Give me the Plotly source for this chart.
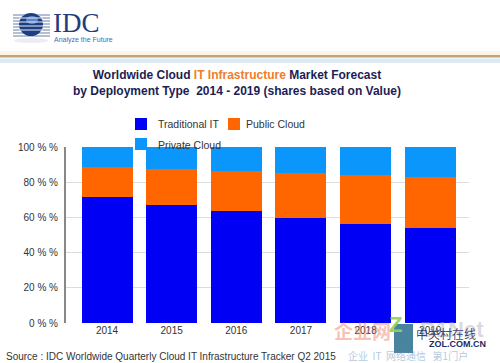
import plotly.graph_objects as go

years = ["2014", "2015", "2016", "2017", "2018", "2019"]
series_names = ["Traditional IT", "Public Cloud", "Private Cloud"]
traditional_it = [71.8, 67.0, 63.4, 59.8, 56.2, 53.8]
public_cloud = [17.1, 20.3, 22.8, 25.2, 27.7, 29.2]
private_cloud = [11.1, 12.7, 13.8, 15.0, 16.1, 17.0]
y_ticks = [0, 20, 40, 60, 80, 100]
y_tick_labels = [f"{v} % %" for v in y_ticks]
colors = ["#0000f5", "#ff6600", "#0a96fa"]

W, H = 500, 363
L, R, T, B = 66, 31, 147, 40
PW, PH = W - L - R, H - T - B


def px(x):
    return (x - L) / PW


def py(y):
    return (H - B - y) / PH


fig = go.Figure()
for name, vals, c in zip(series_names, [traditional_it, public_cloud, private_cloud], colors):
    fig.add_trace(go.Bar(x=years, y=vals, name=name, marker=dict(color=c, line=dict(width=0)),
                         width=0.79, showlegend=False))

shapes = []
annotations = []
font = "Liberation Sans, Arial, sans-serif"

# header decoration
shapes.append(dict(type="rect", xref="paper", yref="paper", x0=px(0), x1=px(W), y0=py(56), y1=py(51),
                   fillcolor="#fdf4e4", line=dict(width=0), layer="below"))
shapes.append(dict(type="rect", xref="paper", yref="paper", x0=px(0), x1=px(W), y0=py(57.5), y1=py(55),
                   fillcolor="#c4a27c", line=dict(width=0), layer="below"))
shapes.append(dict(type="rect", xref="paper", yref="paper", x0=px(0), x1=px(W), y0=py(63), y1=py(58.5),
                   fillcolor="#dde9f4", line=dict(width=0), layer="below"))

# IDC logo: stripes + globe
for yy in [15, 18, 21, 24, 27, 30, 33, 36]:
    shapes.append(dict(type="line", xref="paper", yref="paper", x0=px(13), x1=px(50), y0=py(yy), y1=py(yy),
                       line=dict(color="#6a7fa8", width=1)))
shapes.append(dict(type="circle", xref="paper", yref="paper", x0=px(19), x1=px(43), y0=py(36), y1=py(13),
                   fillcolor="#1d3f82", line=dict(width=0)))
shapes.append(dict(type="circle", xref="paper", yref="paper", x0=px(26), x1=px(38), y0=py(24), y1=py(16),
                   fillcolor="#5f86c8", line=dict(width=0)))
for yy in [18, 22, 26, 30]:
    shapes.append(dict(type="line", xref="paper", yref="paper", x0=px(19), x1=px(43), y0=py(yy), y1=py(yy),
                       line=dict(color="#e8eef8", width=1)))
shapes.append(dict(type="circle", xref="paper", yref="paper", x0=px(14), x1=px(48), y0=py(43), y1=py(38),
                   fillcolor="#e6e2ee", line=dict(width=0), opacity=0.7))
annotations.append(dict(x=px(51), y=py(23), xref="paper", yref="paper", text="IDC", showarrow=False,
                        xanchor="left", yanchor="middle",
                        font=dict(family="Liberation Serif, DejaVu Serif, serif", size=27, color="#223c7c")))
annotations.append(dict(x=px(52), y=py(40.5), xref="paper", yref="paper", text="Analyze the Future",
                        showarrow=False, xanchor="left", yanchor="middle",
                        font=dict(family=font, size=7, color="#3a6cc0")))

# title
annotations.append(dict(
    x=px(237), y=py(82.5), xref="paper", yref="paper", showarrow=False, xanchor="center", yanchor="middle",
    text="<b>Worldwide Cloud <span style='color:#ee7d2c'>IT Infrastructure</span> Market Forecast<br>"
         "by Deployment Type  2014 - 2019 (shares based on Value)</b>",
    font=dict(family=font, size=12, color="#1d1d55"), align="center"))

# legend (manual, from series names/colors)
leg = [(135, 118, 156), (228, 118, 244), (135, 138, 156)]
for (sx, sy, tx), name, c in zip(leg, series_names, colors):
    shapes.append(dict(type="rect", xref="paper", yref="paper", x0=px(sx), x1=px(sx + 12),
                       y0=py(sy + 12), y1=py(sy), fillcolor=c, line=dict(width=0)))
    annotations.append(dict(x=px(tx), y=py(sy + 6.5), xref="paper", yref="paper", text=name, showarrow=False,
                            xanchor="left", yanchor="middle", font=dict(family=font, size=10.5, color="#333333")))

# source
annotations.append(dict(x=px(4), y=py(356), xref="paper", yref="paper", showarrow=False, xanchor="left",
                        yanchor="middle",
                        text="Source : IDC Worldwide Quarterly Cloud IT Infrastructure Tracker Q2 2015",
                        font=dict(family=font, size=10, color="#333333")))

# watermarks
annotations.append(dict(x=px(362), y=py(330), xref="paper", yref="paper", showarrow=False, xanchor="center",
                        yanchor="middle", text="<b>企业网</b>",
                        font=dict(family="Noto Sans CJK SC", size=19, color="rgba(240,120,90,0.45)")))
annotations.append(dict(x=px(452), y=py(329), xref="paper", yref="paper", showarrow=False, xanchor="center",
                        yanchor="middle", text="<b>D1Net</b>",
                        font=dict(family=font, size=22, color="rgba(170,170,180,0.45)")))
shapes.append(dict(type="rect", xref="paper", yref="paper", x0=px(394), x1=px(413), y0=py(353), y1=py(324),
                   fillcolor="rgba(40,110,140,0.85)", line=dict(width=0)))
annotations.append(dict(x=px(403.5), y=py(339), xref="paper", yref="paper", showarrow=False, text="<b>Z</b>",
                        font=dict(family=font, size=22, color="rgba(150,210,90,0.95)")))
annotations.append(dict(x=px(446), y=py(333), xref="paper", yref="paper", showarrow=False, xanchor="center",
                        yanchor="middle", text="中关村在线",
                        font=dict(family="Noto Sans CJK SC", size=12, color="rgba(30,40,90,0.85)")))
annotations.append(dict(x=px(457), y=py(344), xref="paper", yref="paper", showarrow=False, xanchor="center",
                        yanchor="middle", text="<b>ZOL.COM.CN</b>",
                        font=dict(family=font, size=9, color="#1c2a6a")))
annotations.append(dict(x=px(408), y=py(355.5), xref="paper", yref="paper", showarrow=False, xanchor="center",
                        yanchor="middle", text="企业  IT  网络通信   第1门户",
                        font=dict(family="Noto Sans CJK SC", size=10, color="rgba(120,150,190,0.55)")))

fig.update_layout(
    width=W, height=H, margin=dict(l=L, r=R, t=T, b=B, pad=0),
    paper_bgcolor="white", plot_bgcolor="white",
    barmode="stack", bargap=0.21,
    shapes=shapes, annotations=annotations, showlegend=False,
    xaxis=dict(type="category", range=[-0.635, 5.6], showgrid=False, zeroline=False, showline=False,
               ticks="", tickfont=dict(family=font, size=10, color="#333333")),
    yaxis=dict(range=[0, 100], tickvals=y_ticks, ticktext=y_tick_labels, showgrid=True, gridcolor="#dcdcdc",
               gridwidth=1, zeroline=False, showline=True, linecolor="#888888", linewidth=2, ticks="",
               ticklabelstandoff=4, tickfont=dict(family=font, size=10, color="#333333")),
)

fig.write_html("out.html", config={"displayModeBar": False},
               post_script="document.body.style.margin='0';document.body.style.overflow='hidden';")
